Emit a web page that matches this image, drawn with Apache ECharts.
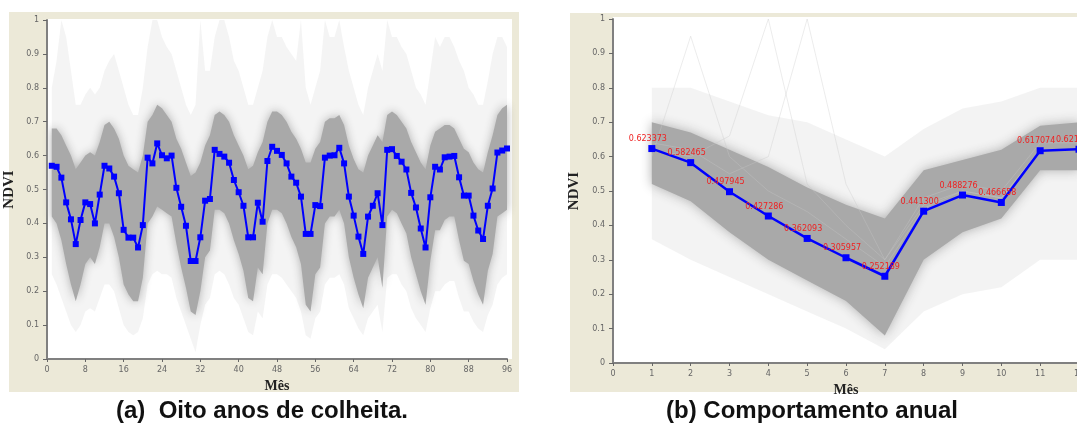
<!DOCTYPE html>
<html>
<head>
<meta charset="utf-8">
<script src="https://cdn.jsdelivr.net/npm/echarts@6/dist/echarts.min.js"></script>
<style>html,body{margin:0;padding:0;background:#fff}#c{width:1077px;height:435px}</style>
</head>
<body>
<div id="c"></div>
<script>
// ---------- Panel (a): eight years, monthly NDVI ----------
const monthsA = Array.from({length: 96}, (_, i) => i + 1);
const meanA = [0.570,0.567,0.535,0.462,0.412,0.339,0.410,0.462,0.457,0.400,0.485,0.570,
  0.562,0.538,0.489,0.381,0.358,0.358,0.329,0.395,0.594,0.577,0.636,0.601,
  0.592,0.600,0.505,0.449,0.393,0.289,0.289,0.359,0.467,0.472,0.617,0.605,
  0.597,0.579,0.528,0.492,0.452,0.359,0.359,0.461,0.405,0.584,0.626,0.614,
  0.602,0.577,0.538,0.520,0.479,0.369,0.369,0.454,0.451,0.594,0.600,0.601,
  0.623,0.577,0.479,0.423,0.361,0.310,0.420,0.452,0.489,0.395,0.617,0.619,
  0.599,0.582,0.559,0.490,0.447,0.385,0.329,0.477,0.567,0.559,0.595,0.597,
  0.599,0.536,0.482,0.482,0.423,0.379,0.354,0.452,0.503,0.609,0.615,0.621];
const darkUpA = [0.68,0.68,0.66,0.63,0.60,0.56,0.58,0.60,0.61,0.60,0.64,0.69,
  0.70,0.68,0.65,0.60,0.57,0.56,0.55,0.60,0.70,0.72,0.75,0.74,
  0.72,0.70,0.65,0.62,0.58,0.54,0.55,0.58,0.63,0.66,0.72,0.73,
  0.72,0.70,0.66,0.63,0.60,0.56,0.57,0.61,0.64,0.70,0.73,0.73,
  0.72,0.70,0.67,0.65,0.62,0.58,0.58,0.62,0.64,0.70,0.71,0.71,
  0.72,0.69,0.63,0.59,0.56,0.55,0.60,0.63,0.66,0.64,0.72,0.73,
  0.72,0.70,0.68,0.64,0.61,0.58,0.56,0.63,0.67,0.68,0.69,0.69,
  0.68,0.65,0.62,0.61,0.58,0.56,0.55,0.61,0.66,0.72,0.74,0.75];
const darkLowA = [0.42,0.40,0.35,0.28,0.22,0.17,0.22,0.28,0.30,0.28,0.33,0.40,
  0.40,0.36,0.30,0.22,0.19,0.17,0.17,0.24,0.40,0.42,0.45,0.44,
  0.43,0.42,0.34,0.27,0.21,0.14,0.13,0.20,0.30,0.32,0.44,0.44,
  0.43,0.40,0.35,0.31,0.26,0.18,0.17,0.27,0.25,0.40,0.44,0.44,
  0.43,0.40,0.36,0.33,0.28,0.16,0.14,0.25,0.27,0.40,0.42,0.42,
  0.44,0.40,0.30,0.24,0.19,0.15,0.24,0.27,0.30,0.21,0.42,0.44,
  0.43,0.40,0.37,0.30,0.25,0.20,0.16,0.29,0.38,0.38,0.41,0.42,
  0.42,0.35,0.29,0.28,0.23,0.19,0.16,0.26,0.31,0.42,0.43,0.44];
const lightUpA = [0.80,0.88,1.00,0.95,0.85,0.75,0.75,0.78,0.80,0.78,0.80,0.85,
  0.88,0.90,0.85,0.80,0.75,0.72,0.72,0.80,0.92,1.00,1.00,0.95,
  0.92,0.90,0.85,0.80,0.75,0.72,0.75,1.00,0.85,0.85,0.95,1.00,
  1.00,0.95,0.88,0.85,0.80,0.75,0.75,0.80,0.85,0.95,1.00,0.95,
  0.95,0.92,0.90,0.88,1.00,0.80,0.75,0.80,0.85,1.00,0.95,0.95,
  1.00,0.92,0.85,0.80,0.75,0.72,0.80,0.85,0.90,0.85,1.00,0.95,
  0.95,0.92,0.90,0.85,0.80,0.78,0.75,0.85,0.95,0.92,0.95,0.95,
  0.92,0.88,0.85,0.80,0.78,0.75,0.75,0.82,0.90,0.95,0.95,0.92];
const lightLowA = [0.25,0.22,0.18,0.14,0.10,0.08,0.10,0.14,0.15,0.14,0.18,0.22,
  0.22,0.20,0.15,0.10,0.08,0.07,0.08,0.12,0.22,0.25,0.26,0.25,
  0.25,0.24,0.18,0.14,0.10,0.06,0.02,0.10,0.16,0.18,0.25,0.26,
  0.25,0.22,0.18,0.16,0.12,0.08,0.07,0.14,0.12,0.22,0.25,0.25,
  0.24,0.22,0.20,0.18,0.14,0.07,0.06,0.12,0.14,0.22,0.24,0.24,
  0.25,0.22,0.15,0.12,0.09,0.07,0.12,0.14,0.16,0.08,0.24,0.25,
  0.25,0.22,0.20,0.15,0.12,0.10,0.08,0.15,0.20,0.20,0.22,0.23,
  0.23,0.18,0.14,0.14,0.11,0.09,0.08,0.13,0.16,0.22,0.24,0.25];

// ---------- Panel (b): annual behaviour ----------
const monthsB = [1,2,3,4,5,6,7,8,9,10,11,12];
const meanB = [0.623373,0.582465,0.497945,0.427286,0.362093,0.305957,0.252189,0.441300,0.488276,0.466658,0.617074,0.621387];
const darkUpB = [0.70,0.67,0.62,0.57,0.51,0.46,0.42,0.56,0.59,0.62,0.69,0.70];
const darkLowB = [0.52,0.47,0.38,0.30,0.24,0.18,0.08,0.30,0.38,0.42,0.56,0.56];
const lightUpB = [0.80,0.80,0.76,0.72,0.70,0.65,0.60,0.68,0.74,0.76,0.80,0.80];
const lightLowB = [0.36,0.30,0.25,0.20,0.15,0.10,0.04,0.15,0.20,0.22,0.30,0.30];
const spikeB1 = [0.62,0.60,0.66,1.00,0.52,0.40,0.30,0.46,0.50,0.48,0.62,0.62];
const spikeB2 = [0.64,0.62,0.55,0.60,1.00,0.52,0.30,0.48,0.52,0.50,0.64,0.64];
const spikeB3 = [0.60,0.95,0.60,0.50,0.44,0.36,0.28,0.45,0.50,0.48,0.62,0.62];

const pairs = (xs, ys) => xs.map((x, i) => [x, ys[i]]);

const beige = '#ECE9D8';
const tickFont = {fontFamily: 'DejaVu Sans', fontSize: 8, color: '#666'};
const nameFont = {fontFamily: 'Liberation Serif', fontWeight: 'bold', color: '#222'};
const axisLine = {show: true, onZero: false, lineStyle: {color: '#808080', width: 2}};

function xAx(grid, max, interval, gap) {
  return {type: 'value', gridIndex: grid, min: 0, max: max, interval: interval,
    name: 'Mês', nameLocation: 'middle', nameGap: gap,
    nameTextStyle: Object.assign({fontSize: 14}, nameFont),
    axisLine: axisLine, axisTick: {show: true, length: 3, lineStyle: {color: '#666', width: 1}},
    axisLabel: Object.assign({margin: 7, formatter: v => String(v)}, tickFont),
    splitLine: {show: false}};
}
function yAx(grid, gap) {
  return {type: 'value', gridIndex: grid, min: 0, max: 1, interval: 0.1,
    name: 'NDVI', nameLocation: 'middle', nameGap: gap,
    nameTextStyle: Object.assign({fontSize: 15}, nameFont),
    axisLine: axisLine, axisTick: {show: true, length: 4, lineStyle: {color: '#666', width: 1}},
    axisLabel: Object.assign({margin: 8, formatter: v => String(+v.toFixed(1))}, tickFont),
    splitLine: {show: false}};
}

// band drawn as one polygon between a lower and an upper data envelope
function band(xi, yi, xs, lo, hi, fill, blur) {
  return {type: 'custom', xAxisIndex: xi, yAxisIndex: yi, silent: true, z: 1,
    data: xs.map((x, i) => [x, lo[i], hi[i]]),
    encode: {x: 0, y: [1, 2]},
    renderItem: (params, api) => {
      if (params.dataIndex !== 0) return null;
      const top = xs.map((x, i) => api.coord([x, hi[i]]));
      const bot = xs.map((x, i) => api.coord([x, lo[i]])).reverse();
      const style = {fill: fill};
      if (blur) { style.shadowBlur = blur; style.shadowColor = 'rgba(175,175,175,1)'; }
      return {type: 'polygon', shape: {points: top.concat(bot)}, style: style};
    }};
}

const series = [
  band(0, 0, monthsA, lightLowA, lightUpA, 'rgba(200,200,200,0.2)', 0),
  band(0, 0, monthsA, darkLowA, darkUpA, '#a9a9a9', 10),
  {type: 'line', xAxisIndex: 0, yAxisIndex: 0, data: pairs(monthsA, meanA),
    symbol: 'rect', symbolSize: 6, itemStyle: {color: '#0000ff'},
    lineStyle: {color: '#0000ff', width: 2}, z: 5},
  band(1, 1, monthsB, lightLowB, lightUpB, 'rgba(200,200,200,0.22)', 0)
].concat(
  [spikeB1, spikeB2, spikeB3].map(s => ({type: 'line', xAxisIndex: 1, yAxisIndex: 1,
    data: pairs(monthsB, s), symbol: 'none', silent: true, z: 1,
    lineStyle: {color: 'rgba(200,200,200,0.35)', width: 1}})),
  [band(1, 1, monthsB, darkLowB, darkUpB, '#a9a9a9', 12),
   {type: 'line', xAxisIndex: 1, yAxisIndex: 1, data: pairs(monthsB, meanB),
    symbol: 'rect', symbolSize: 7, itemStyle: {color: '#0000ff'},
    lineStyle: {color: '#0000ff', width: 2.5}, z: 5,
    label: {show: true, position: 'top', distance: 2, offset: [-4, 0],
      fontFamily: 'DejaVu Sans', fontSize: 8, color: '#ee2222',
      formatter: p => p.value[1].toFixed(6)}}]
);

const chart = echarts.init(document.getElementById('c'), null, {renderer: 'canvas'});
chart.setOption({
  animation: false,
  backgroundColor: '#ffffff',
  grid: [
    {left: 47, top: 20, width: 460, height: 339, outerBoundsMode: 'none', containLabel: false},
    {left: 613, top: 19, width: 466, height: 344, outerBoundsMode: 'none', containLabel: false}
  ],
  xAxis: [xAx(0, 96, 8, 12), xAx(1, 12, 1, 10)],
  yAxis: [yAx(0, 30), yAx(1, 31)],
  graphic: [
    {type: 'rect', z: -10, silent: true, shape: {x: 9, y: 12, width: 510, height: 380}, style: {fill: beige}},
    {type: 'rect', z: -9, silent: true, shape: {x: 48, y: 19, width: 464, height: 340}, style: {fill: '#ffffff'}},
    {type: 'rect', z: -10, silent: true, shape: {x: 570, y: 13, width: 520, height: 379}, style: {fill: beige}},
    {type: 'rect', z: -9, silent: true, shape: {x: 613, y: 17, width: 470, height: 346}, style: {fill: '#ffffff'}},
    {type: 'text', z: 10, x: 262, y: 411, style: {text: '(a)  Oito anos de colheita.',
      textAlign: 'center', textVerticalAlign: 'middle', font: 'bold 24px "Liberation Sans", Arial, sans-serif', fill: '#111'}},
    {type: 'text', z: 10, x: 812, y: 411, style: {text: '(b) Comportamento anual',
      textAlign: 'center', textVerticalAlign: 'middle', font: 'bold 24px "Liberation Sans", Arial, sans-serif', fill: '#111'}}
  ],
  series: series
});
</script>
</body>
</html>
